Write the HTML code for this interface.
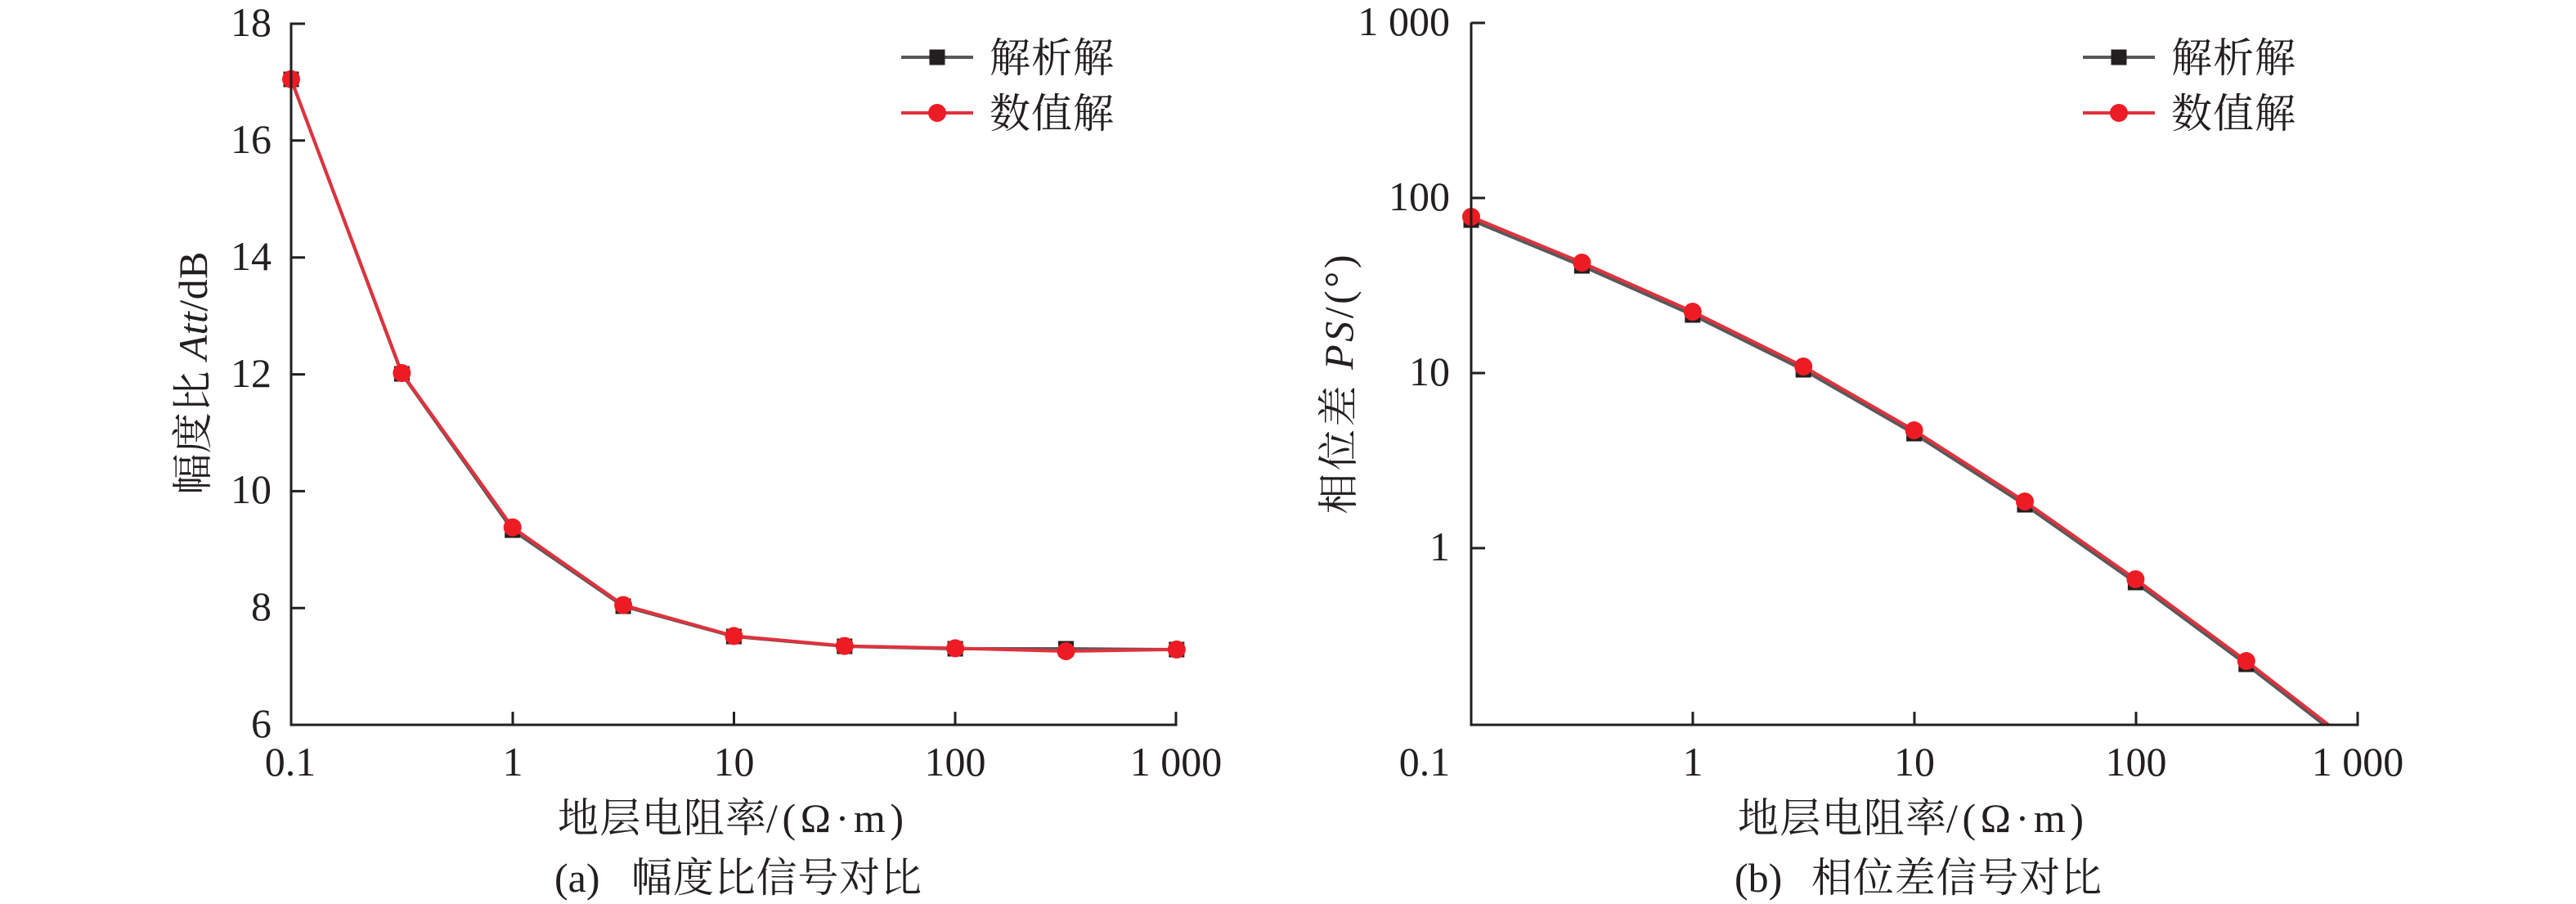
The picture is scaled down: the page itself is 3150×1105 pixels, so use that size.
<!DOCTYPE html>
<html>
<head>
<meta charset="utf-8">
<style>
  html, body { margin: 0; padding: 0; background: #fff; }
  svg { display: block; }
  text { fill: #231f20; font-family: "Liberation Serif", "Noto Serif CJK SC", serif; }
</style>
</head>
<body>
<svg width="3150" height="1105" viewBox="0 0 3150 1105" xmlns="http://www.w3.org/2000/svg">
  <rect x="0" y="0" width="3150" height="1105" fill="#ffffff"/>
  <defs>
    <clipPath id="clipR"><rect x="1700" y="0" width="1300" height="886"/></clipPath>
  </defs>

  <!-- ================= LEFT PANEL ================= -->
  <!-- black (analytic) series -->
  <polyline fill="none" stroke="#58595b" stroke-width="4" stroke-linejoin="round"
    points="356,97 491.4,457 626.7,648 762.1,741 897.4,778 1032.8,790 1168.1,793 1303.5,793 1438.8,794"/>
  <g fill="#231f20">
    <rect x="346.5" y="87.5" width="19" height="19"/>
    <rect x="481.9" y="447.5" width="19" height="19"/>
    <rect x="617.2" y="638.5" width="19" height="19"/>
    <rect x="752.6" y="731.5" width="19" height="19"/>
    <rect x="887.9" y="768.5" width="19" height="19"/>
    <rect x="1023.3" y="780.5" width="19" height="19"/>
    <rect x="1158.6" y="783.5" width="19" height="19"/>
    <rect x="1294" y="783.5" width="19" height="19"/>
    <rect x="1429.3" y="784.5" width="19" height="19"/>
  </g>
  <!-- red (numeric) series -->
  <polyline fill="none" stroke="#e0323d" stroke-width="4" stroke-linejoin="round"
    points="356,96.8 491.4,456 626.7,644.6 762.1,739.6 897.4,777.4 1032.8,789.6 1168.1,792.4 1303.5,796 1438.8,793.9"/>
  <g fill="#ed1c24">
    <circle cx="356" cy="96.8" r="11"/>
    <circle cx="491.4" cy="456" r="11"/>
    <circle cx="626.7" cy="644.6" r="11"/>
    <circle cx="762.1" cy="739.6" r="11"/>
    <circle cx="897.4" cy="777.4" r="11"/>
    <circle cx="1032.8" cy="789.6" r="11"/>
    <circle cx="1168.1" cy="792.4" r="11"/>
    <circle cx="1303.5" cy="796" r="11"/>
    <circle cx="1438.8" cy="793.9" r="11"/>
  </g>

  <!-- axes -->
  <g stroke="#231f20" stroke-width="3" fill="none">
    <path d="M356,27.5 V886 H1439.5"/>
    <path d="M356,29 H373 M356,171.8 H373 M356,314.7 H373 M356,457.6 H373 M356,600.4 H373 M356,743.3 H373"/>
    <path d="M627,886 V870 M897.5,886 V870 M1168,886 V870 M1438,886 V870"/>
  </g>
  <!-- y tick labels -->
  <g font-size="50" text-anchor="end">
    <text x="332" y="44">18</text>
    <text x="332" y="187">16</text>
    <text x="332" y="330">14</text>
    <text x="332" y="473">12</text>
    <text x="332" y="615">10</text>
    <text x="332" y="758">8</text>
    <text x="332" y="901">6</text>
  </g>
  <!-- x tick labels -->
  <g font-size="50" text-anchor="middle">
    <text x="355" y="948">0.1</text>
    <text x="627" y="948">1</text>
    <text x="897.5" y="948">10</text>
    <text x="1168" y="948">100</text>
    <text x="1438" y="948">1 000</text>
  </g>
  <!-- axis titles -->
  <text transform="translate(253,456) rotate(-90)" font-size="50" text-anchor="middle" textLength="297" lengthAdjust="spacing">幅度比 <tspan font-style="italic">Att</tspan>/dB</text>
  <text x="682" y="1017" font-size="50" textLength="255" lengthAdjust="spacing">地层电阻率</text>
  <text x="937" y="1017" font-size="50" textLength="168" lengthAdjust="spacing">/(Ω·m)</text>
  <!-- caption -->
  <text x="678" y="1090" font-size="50">(a)</text>
  <text x="772" y="1090" font-size="50" textLength="355" lengthAdjust="spacing">幅度比信号对比</text>
  <!-- legend -->
  <line x1="1102" y1="70" x2="1190" y2="70" stroke="#58595b" stroke-width="4"/>
  <rect x="1136.5" y="60.5" width="19" height="19" fill="#231f20"/>
  <line x1="1102" y1="138" x2="1190" y2="138" stroke="#e0323d" stroke-width="4"/>
  <circle cx="1146" cy="138" r="11" fill="#ed1c24"/>
  <text x="1210" y="88" font-size="50" textLength="152" lengthAdjust="spacing">解析解</text>
  <text x="1210" y="156" font-size="50" textLength="152" lengthAdjust="spacing">数值解</text>

  <!-- ================= RIGHT PANEL ================= -->
  <g clip-path="url(#clipR)">
    <polyline fill="none" stroke="#58595b" stroke-width="4" stroke-linejoin="round"
      points="1799,269 1934.4,325 2069.8,385 2205.2,452 2340.6,530 2476,617 2611.4,712 2746.8,812 2882.2,917"/>
    <g fill="#231f20">
      <rect x="1789.5" y="259.5" width="19" height="19"/>
      <rect x="1924.9" y="315.5" width="19" height="19"/>
      <rect x="2060.3" y="375.5" width="19" height="19"/>
      <rect x="2195.7" y="442.5" width="19" height="19"/>
      <rect x="2331.1" y="520.5" width="19" height="19"/>
      <rect x="2466.5" y="607.5" width="19" height="19"/>
      <rect x="2601.9" y="702.5" width="19" height="19"/>
      <rect x="2737.3" y="802.5" width="19" height="19"/>
    </g>
    <polyline fill="none" stroke="#e0323d" stroke-width="4" stroke-linejoin="round"
      points="1799,265 1934.4,321 2069.8,381 2205.2,448 2340.6,526 2476,613 2611.4,708 2746.8,808 2882.2,913"/>
    <g fill="#ed1c24">
      <circle cx="1799" cy="265" r="11"/>
      <circle cx="1934.4" cy="321" r="11"/>
      <circle cx="2069.8" cy="381" r="11"/>
      <circle cx="2205.2" cy="448" r="11"/>
      <circle cx="2340.6" cy="526" r="11"/>
      <circle cx="2476" cy="613" r="11"/>
      <circle cx="2611.4" cy="708" r="11"/>
      <circle cx="2746.8" cy="808" r="11"/>
    </g>
  </g>

  <g stroke="#231f20" stroke-width="3" fill="none">
    <path d="M1799,27.5 V886 H2884.5"/>
    <path d="M1799,28 H1816 M1799,242 H1816 M1799,456 H1816 M1799,670 H1816"/>
    <path d="M2070,886 V870 M2341,886 V870 M2612,886 V870 M2883,886 V870"/>
  </g>
  <g font-size="50" text-anchor="end">
    <text x="1773" y="43">1 000</text>
    <text x="1773" y="257">100</text>
    <text x="1773" y="471">10</text>
    <text x="1773" y="685">1</text>
  </g>
  <g font-size="50" text-anchor="middle">
    <text x="1742" y="948">0.1</text>
    <text x="2070" y="948">1</text>
    <text x="2341" y="948">10</text>
    <text x="2612" y="948">100</text>
    <text x="2883" y="948">1 000</text>
  </g>
  <text transform="translate(1654,470) rotate(-90)" font-size="50" text-anchor="middle" textLength="317" lengthAdjust="spacing">相位差 <tspan font-style="italic">PS</tspan>/(°)</text>
  <text x="2125" y="1017" font-size="50" textLength="255" lengthAdjust="spacing">地层电阻率</text>
  <text x="2380" y="1017" font-size="50" textLength="168" lengthAdjust="spacing">/(Ω·m)</text>
  <text x="2121" y="1090" font-size="50">(b)</text>
  <text x="2215" y="1090" font-size="50" textLength="355" lengthAdjust="spacing">相位差信号对比</text>
  <!-- legend -->
  <line x1="2547" y1="70" x2="2635" y2="70" stroke="#58595b" stroke-width="4"/>
  <rect x="2581.5" y="60.5" width="19" height="19" fill="#231f20"/>
  <line x1="2547" y1="138" x2="2635" y2="138" stroke="#e0323d" stroke-width="4"/>
  <circle cx="2591" cy="138" r="11" fill="#ed1c24"/>
  <text x="2655" y="88" font-size="50" textLength="152" lengthAdjust="spacing">解析解</text>
  <text x="2655" y="156" font-size="50" textLength="152" lengthAdjust="spacing">数值解</text>
</svg>
</body>
</html>
